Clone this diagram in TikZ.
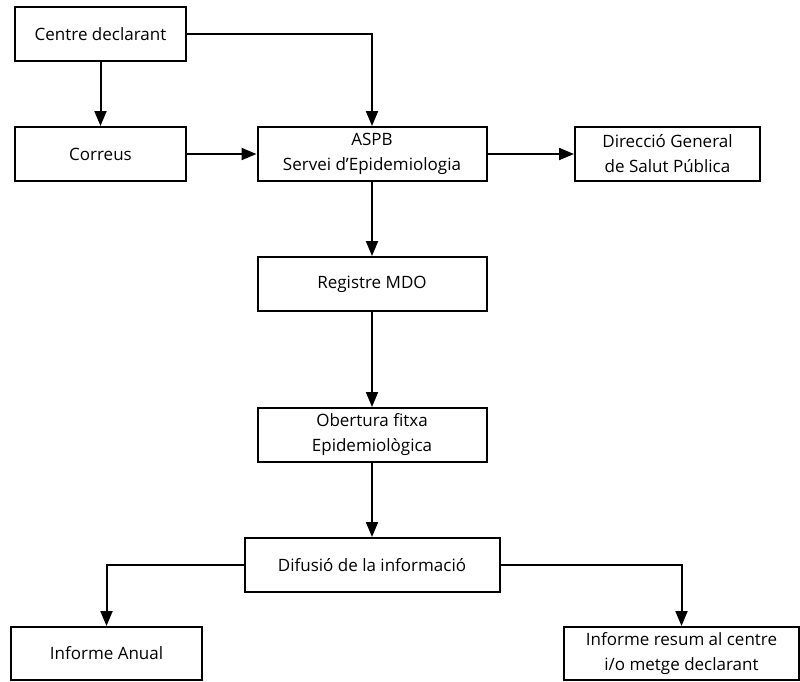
\documentclass[tikz,border=0pt]{standalone}
\usepackage{fontspec}
\setmainfont{Open Sans}
\usetikzlibrary{arrows.meta}
\begin{document}
\begin{tikzpicture}[x=1pt,y=-1pt,
  box/.style={draw,line width=2pt,inner sep=0pt,align=center,font=\fontsize{17}{25}\selectfont},
  conn/.style={line width=2pt,-{Triangle[length=15pt,width=12pt]}}]
\useasboundingbox (0,0) rectangle (800,681);
\node[box,minimum width=171pt,minimum height=54pt] (centre) at (100.5,34) {Centre declarant};
\node[box,minimum width=171pt,minimum height=54pt] (correus) at (100.5,154) {Correus};
\node[box,minimum width=229pt,minimum height=54pt] (aspb) at (372,154) {ASPB\\Servei d’Epidemiologia};
\node[box,minimum width=185pt,minimum height=54pt] (dgsp) at (667.5,154) {Direcció General\\de Salut Pública};
\node[box,minimum width=229pt,minimum height=54pt] (reg) at (372,284) {Registre MDO};
\node[box,minimum width=229pt,minimum height=54pt] (obert) at (372,435) {Obertura fitxa\\Epidemiològica};
\node[box,minimum width=255pt,minimum height=54pt] (dif) at (372,565) {Difusió de la informació};
\node[box,minimum width=191pt,minimum height=53pt] (anual) at (106.5,653.5) {Informe Anual};
\node[box,minimum width=235pt,minimum height=53pt] (resum) at (681.5,653.5) {Informe resum al centre\\i/o metge declarant};
\draw[conn] (centre.east) -- (aspb.north |- centre.east) -- (aspb.north);
\draw[conn] (centre) -- (correus);
\draw[conn] (correus) -- (aspb);
\draw[conn] (aspb) -- (dgsp);
\draw[conn] (aspb) -- (reg);
\draw[conn] (reg) -- (obert);
\draw[conn] (obert) -- (dif);
\draw[conn] (dif.west) -| (anual.north);
\draw[conn] (dif.east) -| (resum.north);
\end{tikzpicture}
\end{document}
